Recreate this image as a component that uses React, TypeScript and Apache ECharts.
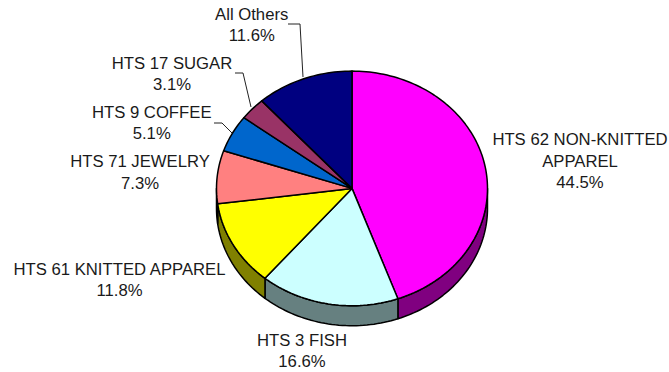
import React, { useEffect, useRef } from "react";
import * as echarts from "echarts";

const categories = [
  "HTS 62 NON-KNITTED\nAPPAREL",
  "HTS 3 FISH",
  "HTS 61 KNITTED APPAREL",
  "HTS 71 JEWELRY",
  "HTS 9 COFFEE",
  "HTS 17 SUGAR",
  "All Others",
];
const shares = [44.5, 16.6, 11.8, 7.3, 5.1, 3.1, 11.6];
const topColors = ["#FF00FF", "#CCFFFF", "#FFFF00", "#FF8080", "#0066CC", "#993366", "#000080"];
const wallColors = ["#800080", "#668080", "#808000", "#804040", "#003366", "#4D1A33", "#000040"];
const labelCenters = [
  [580, 161],
  [302, 351],
  [119.5, 280],
  [140, 172.5],
  [151.7, 123.3],
  [172, 73.7],
  [251.7, 25.3],
];
const leaders: Record<number, number[][]> = {
  4: [[214, 123], [222, 123], [232, 133]],
  5: [[235, 73], [243, 73], [251, 107]],
  6: [[288, 24], [300, 24], [303, 77]],
};

const CX = 352;
const CY = 188.4;
const RX = 135.5;
const RY = 117.3;
const DEPTH = 20;
const TOTAL = shares.reduce((a, b) => a + b, 0);
const pt = (deg: number, dy = 0) => {
  const r = (deg * Math.PI) / 180;
  return [CX + RX * Math.sin(r), CY - RY * Math.cos(r) + dy];
};
const span = (i: number) => {
  const before = shares.slice(0, i).reduce((a, b) => a + b, 0);
  return [(before / TOTAL) * 360, ((before + shares[i]) / TOTAL) * 360];
};
const arc = (a: number, b: number, dy = 0) => {
  const out: number[][] = [];
  const n = Math.max(2, Math.ceil((b - a) / 1.5));
  for (let k = 0; k <= n; k++) out.push(pt(a + ((b - a) * k) / n, dy));
  return out;
};

const lineStyle = { stroke: "#000", lineWidth: 1.5, lineJoin: "round" };

const renderWall = (params: any) => {
  const [a0, b0] = span(params.dataIndex);
  const a = Math.max(a0, 90);
  const b = Math.min(b0, 270);
  if (b <= a) return { type: "group", children: [] };
  return {
    type: "polygon",
    shape: { points: [...arc(a, b, 0), ...arc(a, b, DEPTH).reverse()] },
    style: { fill: wallColors[params.dataIndex], ...lineStyle },
  };
};

const renderTop = (params: any) => {
  const i = params.dataIndex;
  const [a, b] = span(i);
  const children: any[] = [
    {
      type: "polygon",
      shape: { points: [[CX, CY], ...arc(a, b)] },
      style: { fill: topColors[i], ...lineStyle },
    },
  ];
  if (leaders[i]) {
    children.push({
      type: "polyline",
      shape: { points: leaders[i] },
      style: { fill: "none", stroke: "#222", lineWidth: 1 },
    });
  }
  children.push({
    type: "text",
    x: labelCenters[i][0],
    y: labelCenters[i][1],
    style: {
      text: `${categories[i]}\n${shares[i].toFixed(1)}%`,
      fill: "#1a1a1a",
      font: '16.7px "Liberation Sans", Arial, sans-serif',
      lineHeight: 21.3,
      align: "center",
      verticalAlign: "middle",
    },
  });
  return { type: "group", children };
};

export default function App() {
  const ref = useRef<HTMLDivElement>(null);
  useEffect(() => {
    document.body.style.margin = "0";
    const chart = echarts.init(ref.current!, null, { renderer: "svg" });
    const data = categories.map((name, i) => ({ name, value: [shares[i]] }));
    chart.setOption({
      animation: false,
      backgroundColor: "#fff",
      series: [
        { type: "custom", coordinateSystem: "none", silent: true, data, renderItem: renderWall, z: 1 },
        { type: "custom", coordinateSystem: "none", silent: true, data, renderItem: renderTop, z: 2 },
      ],
    });
    return () => chart.dispose();
  }, []);
  return <div ref={ref} style={{ width: 669, height: 372 }} />;
}
